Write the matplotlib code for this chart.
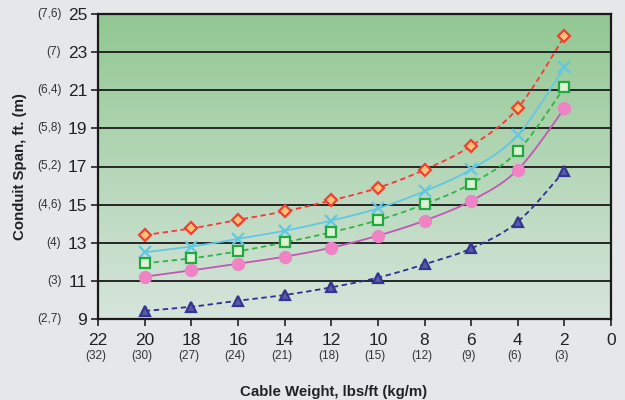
import numpy as np
import matplotlib

matplotlib.use("Agg")
import matplotlib.pyplot as plt

plt.rcParams["font.family"] = ["Liberation Sans", "DejaVu Sans"]

# cable weight, lbs/ft
weights = [20, 18, 16, 14, 12, 10, 8, 6, 4, 2]

span_red = [13.4, 13.75, 14.2, 14.65, 15.22, 15.88, 16.83, 18.08, 20.06, 23.83]
span_cyan = [12.5, 12.8, 13.2, 13.63, 14.16, 14.8, 15.7, 16.85, 18.65, 22.2]
span_green = [11.92, 12.18, 12.55, 13.02, 13.55, 14.18, 15.02, 16.1, 17.8, 21.15]
span_pink = [11.22, 11.55, 11.9, 12.27, 12.74, 13.37, 14.16, 15.2, 16.83, 20.05]
span_blue = [9.42, 9.64, 9.96, 10.26, 10.66, 11.17, 11.87, 12.7, 14.1, 16.78]

y_ticks = [9, 11, 13, 15, 17, 19, 21, 23, 25]
y_metric = ["(2,7)", "(3)", "(4)", "(4,6)", "(5,2)", "(5,8)", "(6,4)", "(7)", "(7,6)"]
x_ticks = [22, 20, 18, 16, 14, 12, 10, 8, 6, 4, 2, 0]
x_metric = ["(32)", "(30)", "(27)", "(24)", "(21)", "(18)", "(15)", "(12)", "(9)", "(6)", "(3)", ""]


def _smooth(xs, ys, steps=20):
    # Catmull-Rom curve through the points, like a spreadsheet's smoothed line
    pts = np.column_stack([xs, ys]).astype(float)
    pts = np.vstack([pts[0], pts, pts[-1]])
    out = []
    t = np.linspace(0, 1, steps, endpoint=False)[:, None]
    for i in range(1, len(pts) - 2):
        p0, p1, p2, p3 = pts[i - 1], pts[i], pts[i + 1], pts[i + 2]
        seg = 0.5 * (
            2 * p1
            + (-p0 + p2) * t
            + (2 * p0 - 5 * p1 + 4 * p2 - p3) * t ** 2
            + (-p0 + 3 * p1 - 3 * p2 + p3) * t ** 3
        )
        out.append(seg)
    out.append(pts[-2][None, :])
    out = np.vstack(out)
    return out[:, 0], out[:, 1]


fig = plt.figure(figsize=(6.25, 4), dpi=100, facecolor="#e6e7e9")
ax = fig.add_axes([0.157, 0.2025, 0.8206, 0.7625])

# gradient background of plot area
top = np.array([0x92, 0xc8, 0x92]) / 255
bottom = np.array([0xd6, 0xe5, 0xdc]) / 255
frac = np.linspace(0, 1, 256)[:, None]
grad = (top * (1 - frac) + bottom * frac)[:, None, :]
ax.imshow(grad, extent=[0, 1, 0, 1], transform=ax.transAxes, aspect="auto", zorder=0)

series = [
    (span_red, "#ff3535", (0, (3, 2)), "D", 6.5, "#ffc27a", "#f04030"),
    (span_cyan, "#62c8e2", "-", "x", 9, "#62c8e2", "#62c8e2"),
    (span_green, "#2fb545", (0, (3, 2)), "s", 6.5, "#dcf2d2", "#22a840"),
    (span_pink, "#c257b4", "-", "o", 8, "#f282c6", "#ea86c4"),
    (span_blue, "#2e2f92", (0, (3, 2)), "^", 7, "#5a5aac", "#34358e"),
]

for values, color, ls, marker, ms, face, edge in series:
    sx, sy = _smooth(weights, values)
    ax.plot(sx, sy, color=color, linestyle=ls, linewidth=1.3, zorder=3)
    ax.plot(weights, values, linestyle="none", marker=marker, markersize=ms,
            markerfacecolor=face, markeredgecolor=edge, markeredgewidth=1.6, zorder=4)

ax.set_xlim(22, 0)
ax.set_ylim(9, 25)
ax.set_yticks(y_ticks)
ax.set_xticks(x_ticks)
ax.set_yticklabels([str(v) for v in y_ticks])
ax.set_xticklabels([str(v) for v in x_ticks])
ax.tick_params(axis="both", direction="out", length=5, width=1.2, labelsize=12.5,
               colors="#222222")
ax.tick_params(axis="y", pad=3)
ax.tick_params(axis="x", pad=5)

for v in y_ticks[1:-1]:
    ax.axhline(v, color="#262626", linewidth=1.4, zorder=2)

for side in ("left", "bottom", "top", "right"):
    ax.spines[side].set_linewidth(1.6)
    ax.spines[side].set_color("#1a1a1a")
    ax.spines[side].set_zorder(5)

for v, lab in zip(y_ticks, y_metric):
    ax.annotate(lab, xy=(0, v), xycoords=("axes fraction", "data"),
                xytext=(-26.5, 0), textcoords="offset points",
                ha="right", va="center", fontsize=8.5, color="#333333")

for v, lab in zip(x_ticks, x_metric):
    ax.annotate(lab, xy=(v, 0), xycoords=("data", "axes fraction"),
                xytext=(-2, -27), textcoords="offset points",
                ha="center", va="center", fontsize=8.5, color="#333333")

fig.text(0.533, 0.02, "Cable Weight, lbs/ft (kg/m)", ha="center", va="center",
         fontsize=10.8, fontweight="bold", color="#222222")
fig.text(0.032, 0.5825, "Conduit Span, ft. (m)", ha="center", va="center",
         rotation=90, fontsize=10.8, fontweight="bold", color="#222222")

fig.savefig("out.png", dpi=100, facecolor=fig.get_facecolor())
plt.close(fig)
